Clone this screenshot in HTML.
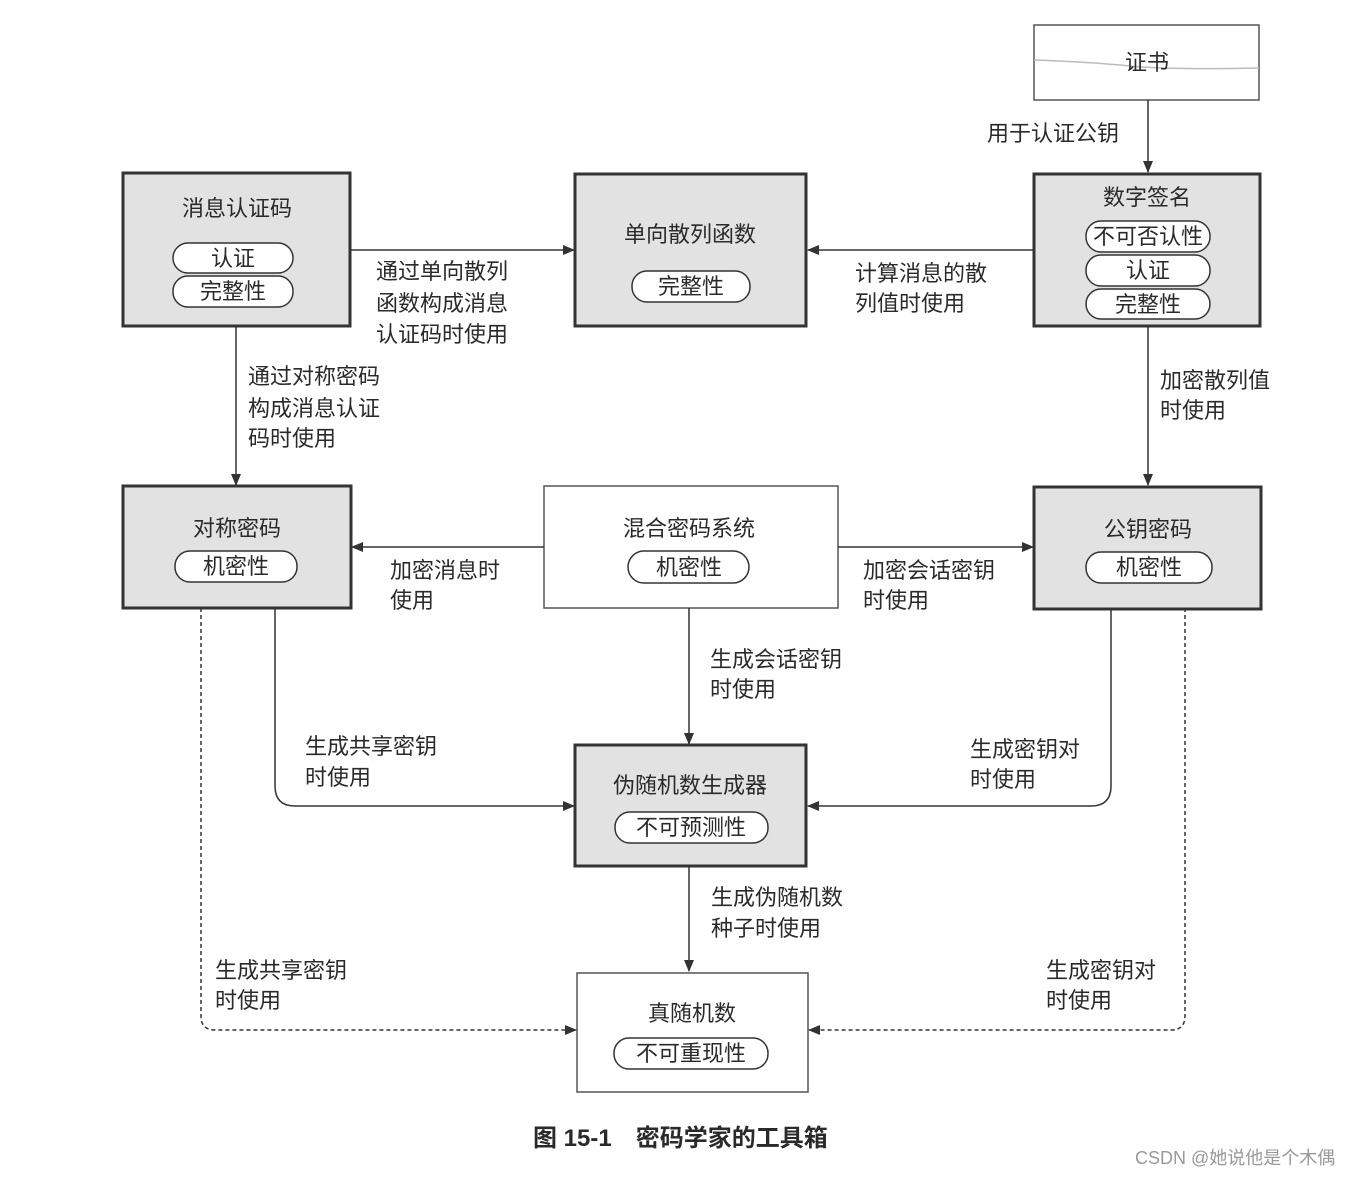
<!DOCTYPE html>
<html><head><meta charset="utf-8"><style>
html,body{margin:0;padding:0;background:#fff;}
svg text{font-family:"Liberation Sans","Noto Sans CJK SC",sans-serif;fill:#2a2a2a;}
</style></head><body>
<svg width="1362" height="1174" viewBox="0 0 1362 1174" xmlns="http://www.w3.org/2000/svg">
<defs>
<marker id="a" markerWidth="12" markerHeight="10" refX="11" refY="5" orient="auto" markerUnits="userSpaceOnUse">
<path d="M0,0 L12,5 L0,10 Z" fill="#333"/></marker>
</defs>
<g font-size="22">
<!-- certificate -->
<rect x="1034" y="25" width="225" height="75" fill="#fff" stroke="#555" stroke-width="1.5"/>
<path d="M1034,60 Q1090,62 1130,66 T1259,68" stroke="#bbb" fill="none" stroke-width="1.5"/>
<text x="1147" y="70" text-anchor="middle">证书</text>
<line x1="1148" y1="100" x2="1148" y2="172" stroke="#333" stroke-width="1.5" marker-end="url(#a)"/>
<text x="987" y="141">用于认证公钥</text>

<!-- gray boxes -->
<g fill="#e2e2e2" stroke="#333" stroke-width="3">
<rect x="123" y="173" width="227" height="153"/>
<rect x="575" y="174" width="231" height="152"/>
<rect x="1034" y="174" width="226" height="152"/>
<rect x="123" y="486" width="228" height="122"/>
<rect x="1034" y="487" width="227" height="122"/>
<rect x="575" y="745" width="231" height="121"/>
</g>
<g fill="#fff" stroke="#555" stroke-width="1.5">
<rect x="544" y="486" width="294" height="122"/>
<rect x="577" y="973" width="231" height="119"/>
</g>
<!-- pills -->
<g fill="#fff" stroke="#333" stroke-width="1.5">
<rect x="173" y="243" width="120" height="30" rx="15"/>
<rect x="173" y="276" width="120" height="31" rx="15"/>
<rect x="632" y="271" width="118" height="31" rx="15"/>
<rect x="1086" y="221" width="124" height="31" rx="15"/>
<rect x="1086" y="255" width="124" height="31" rx="15"/>
<rect x="1086" y="289" width="124" height="30" rx="15"/>
<rect x="175" y="551" width="122" height="31" rx="15"/>
<rect x="628" y="551" width="121" height="32" rx="16"/>
<rect x="1086" y="552" width="126" height="31" rx="15"/>
<rect x="615" y="812" width="153" height="31" rx="15"/>
<rect x="614" y="1038" width="154" height="31" rx="15"/>
</g>
<g text-anchor="middle">
<text x="237" y="216">消息认证码</text>
<text x="233" y="266">认证</text>
<text x="233" y="299">完整性</text>
<text x="690" y="242">单向散列函数</text>
<text x="691" y="294">完整性</text>
<text x="1147" y="205">数字签名</text>
<text x="1148" y="244">不可否认性</text>
<text x="1148" y="278">认证</text>
<text x="1148" y="312">完整性</text>
<text x="237" y="536">对称密码</text>
<text x="236" y="574">机密性</text>
<text x="689" y="536">混合密码系统</text>
<text x="689" y="575">机密性</text>
<text x="1148" y="537">公钥密码</text>
<text x="1149" y="575">机密性</text>
<text x="690" y="793">伪随机数生成器</text>
<text x="691" y="835">不可预测性</text>
<text x="692" y="1021">真随机数</text>
<text x="691" y="1061">不可重现性</text>
</g>

<!-- connectors -->
<g stroke="#333" stroke-width="1.5" fill="none">
<line x1="350" y1="250" x2="574" y2="250" marker-end="url(#a)"/>
<line x1="1034" y1="250" x2="808" y2="250" marker-end="url(#a)"/>
<line x1="236" y1="326" x2="236" y2="485" marker-end="url(#a)"/>
<line x1="1148" y1="326" x2="1148" y2="485" marker-end="url(#a)"/>
<line x1="544" y1="547" x2="352" y2="547" marker-end="url(#a)"/>
<line x1="838" y1="547" x2="1033" y2="547" marker-end="url(#a)"/>
<line x1="689" y1="608" x2="689" y2="744" marker-end="url(#a)"/>
<path d="M275,608 L275,786 Q275,806 295,806 L574,806" marker-end="url(#a)"/>
<path d="M1111,608 L1111,786 Q1111,806 1091,806 L808,806" marker-end="url(#a)"/>
<line x1="689" y1="866" x2="689" y2="971" marker-end="url(#a)"/>
<path d="M201,608 L201,1016 Q201,1030 215,1030 L576,1030" stroke-dasharray="4,3" marker-end="url(#a)"/>
<path d="M1185,608 L1185,1016 Q1185,1030 1171,1030 L809,1030" stroke-dasharray="4,3" marker-end="url(#a)"/>
</g>

<!-- labels -->
<text x="376" y="279">通过单向散列</text>
<text x="376" y="311">函数构成消息</text>
<text x="376" y="342">认证码时使用</text>
<text x="855" y="281">计算消息的散</text>
<text x="855" y="311">列值时使用</text>
<text x="248" y="384">通过对称密码</text>
<text x="248" y="416">构成消息认证</text>
<text x="248" y="446">码时使用</text>
<text x="1160" y="388">加密散列值</text>
<text x="1160" y="418">时使用</text>
<text x="390" y="578">加密消息时</text>
<text x="390" y="608">使用</text>
<text x="863" y="578">加密会话密钥</text>
<text x="863" y="608">时使用</text>
<text x="710" y="667">生成会话密钥</text>
<text x="710" y="697">时使用</text>
<text x="305" y="754">生成共享密钥</text>
<text x="305" y="785">时使用</text>
<text x="970" y="757">生成密钥对</text>
<text x="970" y="787">时使用</text>
<text x="711" y="905">生成伪随机数</text>
<text x="711" y="936">种子时使用</text>
<text x="215" y="978">生成共享密钥</text>
<text x="215" y="1008">时使用</text>
<text x="1046" y="978">生成密钥对</text>
<text x="1046" y="1008">时使用</text>
</g>
<text x="533" y="1146" font-size="24" font-weight="bold">图 15-1　密码学家的工具箱</text>
<text x="1135" y="1164" font-size="18" style="fill:#999">CSDN @她说他是个木偶</text>
</svg>
</body></html>
